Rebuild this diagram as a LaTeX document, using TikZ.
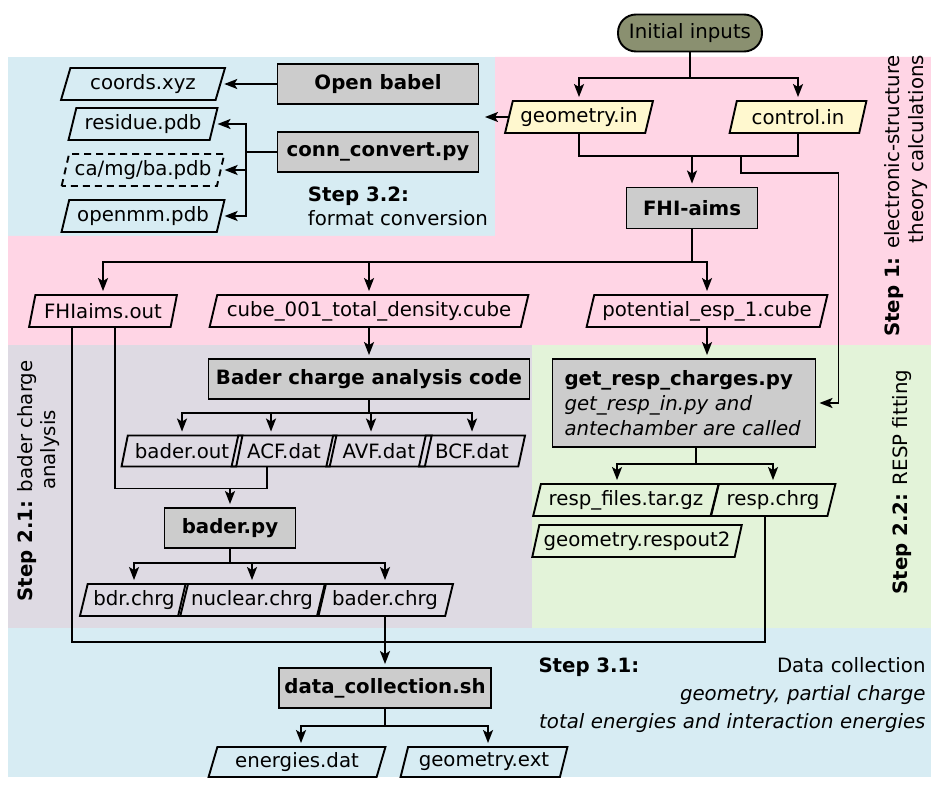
\documentclass[tikz,border=0pt]{standalone}
\usepackage{fontspec}
\setmainfont{DejaVu Sans}
\usetikzlibrary{arrows.meta, shapes.geometric, calc}
\definecolor{bgBlue}{HTML}{D7ECF3}
\definecolor{bgPink}{HTML}{FFD5E5}
\definecolor{bgLilac}{HTML}{DEDAE3}
\definecolor{bgGreen}{HTML}{E3F3D9}
\definecolor{inOlive}{HTML}{8A9070}
\definecolor{inCream}{HTML}{FFF8CF}
\definecolor{procGrey}{HTML}{CCCCCC}

\begin{document}
\begin{tikzpicture}[x=1pt, y=-1pt, line width=1.9pt,
    font=\fontsize{19.75}{24}\selectfont,
    proc/.style={draw, fill=procGrey, font=\fontsize{19.75}{24}\selectfont\bfseries,
      minimum height=40pt, inner sep=2pt},
    file/.style={draw, trapezium, trapezium left angle=70, trapezium right angle=110,
      trapezium stretches=true, minimum height=32pt, inner xsep=1pt, inner ysep=0pt},
    infile/.style={file, fill=inCream},
    arr/.style={-{Stealth[length=13pt, width=10pt, inset=3pt]}, shorten >=3pt},
    lbl/.style={inner sep=0pt, align=left}]
    \useasboundingbox (0,0) rectangle (931,786);

    % zones : conversion / calcul / bader / resp / collecte
    \fill[bgBlue]  (8,57) rectangle (495,236);
    \fill[bgPink]  (495,57) -- (931,57) -- (931,345) -- (8,345) -- (8,236) -- (495,236) -- cycle;
    \fill[bgLilac] (8,345) rectangle (532,628);
    \fill[bgGreen] (532,345) rectangle (931,628);
    \fill[bgBlue]  (8,628) rectangle (931,777);

    % step 1
    \node[draw, fill=inOlive, rounded corners=18pt, minimum width=144pt, minimum height=37pt]
      (init) at (690,33) {Initial inputs};
    \node[infile, minimum width=148pt] (geom) at (579,117) {geometry.in};
    \node[infile, minimum width=137pt] (ctrl) at (798,117) {control.in};
    \node[proc, minimum width=131pt, minimum height=41pt] (fhi) at (692,208) {FHI-aims};
    \node[file, minimum width=148pt] (fout) at (103,311) {FHIaims.out};
    \node[file, minimum width=320pt] (cube) at (369,311) {cube\_001\_total\_density.cube};
    \node[file, minimum width=241pt] (pot) at (707,311) {potential\_esp\_1.cube};

    % step 3.2
    \node[proc, minimum width=201pt] (obabel) at (378,84) {Open babel};
    \node[proc, minimum width=201pt] (conn) at (378,152) {conn\_convert.py};
    \node[file, minimum width=164pt] (coords) at (143,84) {coords.xyz};
    \node[file, minimum width=149pt] (residue) at (143,124) {residue.pdb};
    \node[file, minimum width=163pt, dash pattern=on 7pt off 5pt] (camg) at (143,170) {ca/mg/ba.pdb};
    \node[file, minimum width=163pt] (openmm) at (143,216) {openmm.pdb};

    % step 2.1
    \node[proc, minimum width=321pt] (bader) at (369,379) {Bader charge analysis code};
    \node[file, minimum width=121pt, minimum height=31pt] (bout) at (182,451) {bader.out};
    \node[file, minimum width=105pt, minimum height=31pt] (acf) at (284,451) {ACF.dat};
    \node[file, minimum width=106pt, minimum height=31pt] (avf) at (379,451) {AVF.dat};
    \node[file, minimum width=107pt, minimum height=31pt] (bcf) at (472,451) {BCF.dat};
    \node[proc, minimum width=131pt] (baderpy) at (230,528) {bader.py};
    \node[file, minimum width=109pt] (bdr) at (134,600) {bdr.chrg};
    \node[file, minimum width=148pt] (nuclear) at (252,600) {nuclear.chrg};
    \node[file, minimum width=136pt] (bchrg) at (385,600) {bader.chrg};

    % step 2.2
    \node[proc, font=\fontsize{19.75}{25}\selectfont, minimum width=263pt, minimum height=88pt,
      text width=239pt, align=left, inner xsep=12pt] (getresp) at (684,403)
      {\textbf{get\_resp\_charges.py}\\\textit{get\_resp\_in.py and}\\\textit{antechamber are called}};
    \node[file, minimum width=186pt] (respfiles) at (626,500) {resp\_files.tar.gz};
    \node[file, minimum width=125pt] (respchrg) at (773,500) {resp.chrg};
    \node[file, minimum width=210pt] (respout) at (637,541) {geometry.respout2};

    % step 3.1
    \node[proc, minimum width=212pt] (datacol) at (385,688) {data\_collection.sh};
    \node[file, minimum width=177pt, minimum height=30pt] (energies) at (297,762) {energies.dat};
    \node[file, minimum width=167pt, minimum height=30pt] (geoext) at (484,762) {geometry.ext};

    % connecteurs
    \draw (init.south) -- ++(0,26) coordinate (j0);
    \draw[arr] (j0) -| (geom.north);
    \draw[arr] (j0) -| (ctrl.north);
    \draw (geom.south) -- ++(0,22) coordinate (j1) -| (ctrl.south);
    \draw[arr] (j1 -| fhi.north) -- (fhi.north);
    \draw[arr] ($(j1)+(162,0)$) -- ++(0,17) -| ($(getresp.east)+(22,0)$) -- (getresp.east);
    \coordinate (toconv) at (485,117);
    \draw[arr, shorten >=0pt] (geom.west) -- (toconv);

    \draw[arr] (obabel.west) -- (obabel.west -| coords.east);
    \draw (conn.west) -- ++(-31,0) coordinate (sp);
    \foreach \f in {residue, camg, openmm}
      \draw[arr] (sp) |- (\f.east);

    \draw (fhi.south) -- ++(0,33) coordinate (j3);
    \foreach \f in {fout, cube, pot}
      \draw[arr] (j3) -| (\f.north);

    \draw[arr] (cube.south) -- (bader.north);
    \draw (bader.south) -- ++(0,13) coordinate (j4);
    \foreach \f/\dx in {bout/0, acf/-13, avf/-8, bcf/0}
      \draw[arr] (j4) -| ([xshift=\dx pt]\f.north);
    \draw ([xshift=-17pt]acf.south) -- ++(0,21) coordinate (j5) -| ([xshift=12pt]fout.south);
    \draw[arr] (j5 -| baderpy.north) -- (baderpy.north);
    \draw (baderpy.south) -- ++(0,14) coordinate (j6);
    \foreach \f in {bdr, nuclear, bchrg}
      \draw[arr] (j6) -| (\f.north);

    \draw[arr] (pot.south) -- (pot.south |- getresp.north);
    \draw ([xshift=12pt]getresp.south) -- ++(0,16) coordinate (j7);
    \draw[arr] (j7) -| ([xshift=-9pt]respfiles.north);
    \draw[arr] (j7) -| (respchrg.north);

    \draw ([xshift=-31pt]fout.south) |- ($(datacol.north)+(0,-25)$) coordinate (j8);
    \draw ([xshift=-8pt]respchrg.south) |- (j8);
    \draw (bchrg.south) -- (bchrg.south |- j8);
    \draw[arr] (j8) -- (datacol.north);
    \draw (datacol.south) -- ++(0,17) coordinate (j9);
    \draw[arr] (j9) -| ([xshift=4pt]energies.north);
    \draw[arr] (j9) -| ([xshift=4pt]geoext.north);

    % titres des etapes
    \node[lbl, anchor=west] (step32) at (307,206) {\textbf{Step 3.2:}\\format conversion};
    \node[lbl, rotate=90, align=right] (step1) at (906,196)
      {\textbf{Step 1:} electronic-structure\\theory calculations};
    \node[lbl, rotate=90] (step21a) at (27,481) {\textbf{Step 2.1:} bader charge};
    \node[lbl, rotate=90] (step21b) at (50,450) {analysis};
    \node[lbl, rotate=90] (step22) at (902,482) {\textbf{Step 2.2:} RESP fitting};
    \node[lbl, text width=387pt, align=right] (step31) at (732,695)
      {\textbf{Step 3.1:}\hfill Data collection\\[4pt]\textit{geometry, partial charge}\\[4pt]%
       \textit{total energies and interaction energies}};
  \end{tikzpicture}
\end{document}
